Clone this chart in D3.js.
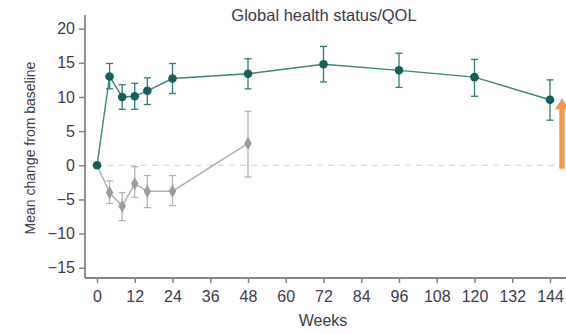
<!DOCTYPE html>
<html>
<head>
<meta charset="utf-8">
<script src="https://cdn.jsdelivr.net/npm/d3@7"></script>
<style>
  html, body { margin: 0; padding: 0; background: #fff; }
  svg { display: block; }
  text { font-family: "Liberation Sans Narrow", "Arial Narrow", "Liberation Sans", sans-serif; }
</style>
</head>
<body>
<svg id="chart" width="566" height="334"></svg>
<script>
// Treatment arm (teal): mean change from baseline with error bars
const teal = {
  weeks: [0, 4, 8, 12, 16, 24, 48, 72, 96, 120, 144],
  mean:  [0, 13.0, 10.0, 10.1, 10.9, 12.7, 13.4, 14.8, 13.9, 12.9, 9.6],
  lo:    [0, 11.2, 8.2, 8.2, 8.9, 10.5, 11.2, 12.2, 11.4, 10.1, 6.6],
  hi:    [0, 14.9, 11.8, 12.0, 12.8, 14.9, 15.6, 17.4, 16.4, 15.5, 12.5]
};
// Comparator arm (grey)
const grey = {
  weeks: [0, 4, 8, 12, 16, 24, 48],
  mean:  [0, -4.0, -6.0, -2.7, -3.8, -3.8, 3.2],
  lo:    [null, -5.6, -8.1, -4.7, -6.2, -5.9, -1.7],
  hi:    [null, -2.3, -4.0, -0.2, -1.5, -1.5, 7.9]
};
const yTicks = [-15, -10, -5, 0, 5, 10, 15, 20];
const xTicks = [0, 12, 24, 36, 48, 60, 72, 84, 96, 108, 120, 132, 144];
const title = "Global health status/QOL";
const xTitle = "Weeks";
const yTitle = "Mean change from baseline";

const svg = d3.select("#chart");
const plotLeft = 85, plotRight = 566, plotTop = 15, plotBottom = 278;

const x = d3.scaleLinear().domain([0, 144]).range([97, 550]);
const y = d3.scaleLinear().domain([-16.5, 22]).range([plotBottom, plotTop]);

const axisColor = "#858585";
const textColor = "#3c3c4a";

// zero reference line
svg.append("line")
  .attr("x1", x(0)).attr("x2", 560)
  .attr("y1", y(0)).attr("y2", y(0))
  .attr("stroke", "#d0d0d0").attr("stroke-width", 1)
  .attr("stroke-dasharray", "6,5");

// Y axis
const yAxis = svg.append("g")
  .attr("transform", `translate(${plotLeft},0)`)
  .call(d3.axisLeft(y).tickValues(yTicks).tickSize(6).tickPadding(4).tickSizeOuter(0));
yAxis.select(".domain").attr("stroke", axisColor).attr("stroke-width", 1.8)
  .attr("d", `M0,${plotTop}V${plotBottom}`);
yAxis.selectAll(".tick line").attr("stroke", axisColor).attr("stroke-width", 1.5);
yAxis.selectAll(".tick text").attr("fill", textColor).attr("font-size", 16)
  .attr("font-family", "'Liberation Sans Narrow', 'Liberation Sans', sans-serif");

// X axis
const xAxis = svg.append("g")
  .attr("transform", `translate(0,${plotBottom})`)
  .call(d3.axisBottom(x).tickValues(xTicks).tickSize(5).tickPadding(8).tickSizeOuter(0));
xAxis.select(".domain").attr("stroke", axisColor).attr("stroke-width", 1.8)
  .attr("d", `M${plotLeft},0H${plotRight}`);
xAxis.selectAll(".tick line").attr("stroke", axisColor).attr("stroke-width", 1.5);
xAxis.selectAll(".tick text").attr("fill", textColor).attr("font-size", 16)
  .attr("font-family", "'Liberation Sans Narrow', 'Liberation Sans', sans-serif");

// Error bars helper
function errorBars(s, color, width) {
  const g = svg.append("g");
  s.weeks.forEach((w, i) => {
    if (s.lo[i] == null || s.lo[i] === s.hi[i]) return;
    const cx = x(w);
    g.append("line").attr("x1", cx).attr("x2", cx)
      .attr("y1", y(s.lo[i])).attr("y2", y(s.hi[i]))
      .attr("stroke", color).attr("stroke-width", width);
    [s.lo[i], s.hi[i]].forEach(v => {
      g.append("line").attr("x1", cx - 3.5).attr("x2", cx + 3.5)
        .attr("y1", y(v)).attr("y2", y(v))
        .attr("stroke", color).attr("stroke-width", width);
    });
  });
}

const line = d3.line().x(d => x(d[0])).y(d => y(d[1]));

// Grey arm
const greyPts = grey.weeks.map((w, i) => [w, grey.mean[i]]);
errorBars(grey, "#b3b3b3", 1.3);
svg.append("path").datum(greyPts).attr("d", line)
  .attr("fill", "none").attr("stroke", "#b0b0b0").attr("stroke-width", 1.5);
svg.append("g").selectAll("path").data(greyPts.slice(1)).join("path")
  .attr("transform", d => `translate(${x(d[0])},${y(d[1])})`)
  .attr("d", d3.symbol().type(d3.symbolDiamond).size(50))
  .attr("fill", "#9c9c9c");

// Teal arm
const tealPts = teal.weeks.map((w, i) => [w, teal.mean[i]]);
errorBars(teal, "#2f7c77", 1.3);
svg.append("path").datum(tealPts).attr("d", line)
  .attr("fill", "none").attr("stroke", "#3a8580").attr("stroke-width", 1.4);
svg.append("g").selectAll("circle").data(tealPts).join("circle")
  .attr("cx", d => x(d[0])).attr("cy", d => y(d[1])).attr("r", 4.3)
  .attr("fill", "#15605b");

// Orange arrow
const arrowX = 562;
svg.append("line").attr("x1", arrowX).attr("x2", arrowX)
  .attr("y1", y(-0.5)).attr("y2", y(8.5))
  .attr("stroke", "#f59b45").attr("stroke-width", 5.5);
svg.append("path")
  .attr("d", `M${arrowX - 7},${y(8.2)} L${arrowX},${y(9.8)} L${arrowX + 7},${y(8.2)} Z`)
  .attr("fill", "#f59b45");

// Title and axis titles
svg.append("text").attr("x", 324).attr("y", 21).attr("text-anchor", "middle")
  .attr("font-size", 16.5).attr("fill", textColor).text(title);
svg.append("text").attr("x", 323).attr("y", 326).attr("text-anchor", "middle")
  .attr("font-size", 16).attr("fill", textColor).text(xTitle);
svg.append("text").attr("transform", "translate(35,148) rotate(-90)")
  .attr("text-anchor", "middle").attr("font-size", 14).attr("fill", textColor).text(yTitle);
</script>
</body>
</html>
